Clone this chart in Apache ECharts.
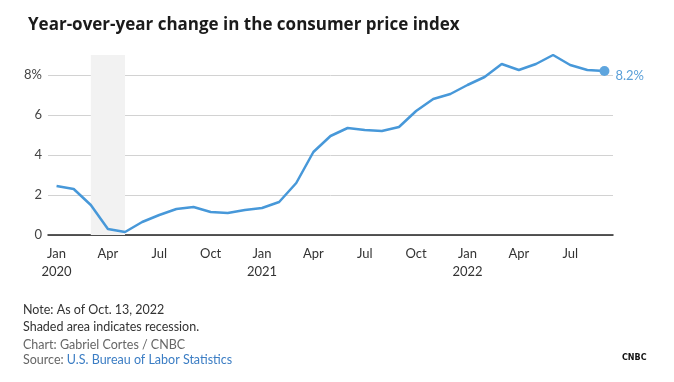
<!DOCTYPE html>
<html>
<head>
<meta charset="utf-8">
<script src="https://cdn.jsdelivr.net/npm/echarts@6/dist/echarts.min.js"></script>
<style>
html,body{margin:0;padding:0;background:#fff;}
#c{width:674px;height:382px;}
</style>
</head>
<body>
<div id="c"></div>
<script>
// Data
const monthNames = ['Jan','Feb','Mar','Apr','May','Jun','Jul','Aug','Sep','Oct','Nov','Dec'];
const years = [2020, 2021, 2022];
const cpiYoY = [
  2.45, 2.3, 1.5, 0.3, 0.15, 0.65, 1.0, 1.3, 1.4, 1.15, 1.1, 1.25,
  1.35, 1.65, 2.6, 4.15, 4.95, 5.35, 5.25, 5.2, 5.4, 6.2, 6.8, 7.05,
  7.5, 7.9, 8.55, 8.25, 8.55, 9.0, 8.5, 8.25, 8.2
];
const yTicks = [0, 2, 4, 6, 8];
const recession = ['2020-03', '2020-05'];
const footnotes = [
  'Note: As of Oct. 13, 2022',
  'Shaded area indicates recession.',
  'Chart: Gabriel Cortes / CNBC'
];
const sourceLabel = 'Source: ';
const sourceName = 'U.S. Bureau of Labor Statistics';

// categories keyed as YYYY-MM
const categories = [];
for (let i = 0; i < cpiYoY.length; i++) {
  const y = years[0] + Math.floor(i / 12);
  const m = i % 12;
  categories.push(y + '-' + String(m + 1).padStart(2, '0'));
}
function catLabel(c) {
  const [y, m] = c.split('-');
  const name = monthNames[parseInt(m, 10) - 1];
  return m === '01' ? name + '\n' + y : name;
}

const lineColor = '#4798d9';
const seriesData = cpiYoY.map((v, i) => {
  if (i === cpiYoY.length - 1) {
    return {
      value: v,
      symbol: 'circle',
      symbolSize: 10,
      itemStyle: { color: '#5ea5de' },
      label: {
        show: true,
        position: 'right',
        distance: 6,
        offset: [0, 5],
        formatter: p => p.value.toFixed(1) + '%',
        color: '#5a9fd8',
        fontSize: 13,
        fontFamily: 'Lato, "Open Sans", sans-serif'
      }
    };
  }
  return { value: v, symbol: 'none' };
});

const chart = echarts.init(document.getElementById('c'), null, { renderer: 'canvas' });
const ff = 'Lato, "Open Sans", sans-serif';

const graphics = [];
const footY = [311, 328, 346];
footnotes.forEach((t, i) => {
  graphics.push({
    type: 'text', left: 23, top: footY[i] - 8,
    style: { text: t, fill: i < 2 ? '#333' : '#666', font: '12.5px ' + ff }
  });
});
graphics.push({
  type: 'text', left: 23, top: 361 - 8,
  style: {
    text: '{a|' + sourceLabel + '}{b|' + sourceName + '}',
    font: '12.5px ' + ff,
    rich: {
      a: { fill: '#666', font: '12.5px ' + ff },
      b: { fill: '#3b7dc4', font: '12.5px ' + ff }
    }
  }
});
graphics.push({
  type: 'text', left: 622, top: 354,
  style: { text: 'CNBC', fill: '#111', font: 'bold 8px "DejaVu Sans", sans-serif' }
});

chart.setOption({
  animation: false,
  backgroundColor: '#fff',
  title: {
    text: 'Year-over-year change in the consumer price index',
    left: 23, top: 12,
    textStyle: { fontSize: 17, fontWeight: 'bold', color: '#1b1b1b', fontFamily: '"Open Sans", Lato, sans-serif' }
  },
  grid: { left: 48, right: 61, top: 55, bottom: 147 },
  xAxis: {
    type: 'category',
    data: categories,
    boundaryGap: true,
    axisLine: { lineStyle: { color: '#222', width: 1.5 } },
    axisTick: { alignWithLabel: true, interval: 2, length: 6, lineStyle: { color: '#222', width: 1.3 } },
    axisLabel: {
      interval: 2,
      formatter: v => catLabel(v),
      color: '#333', fontSize: 13, lineHeight: 18, margin: 10, fontFamily: ff
    },
    splitLine: { show: false }
  },
  yAxis: {
    type: 'value',
    min: 0, max: 9, interval: 2,
    axisLine: { show: false },
    axisTick: { show: false },
    axisLabel: {
      showMaxLabel: false,
      formatter: v => (yTicks.indexOf(v) < 0 ? '' : (v === yTicks[yTicks.length - 1] ? v + '%' : String(v))),
      color: '#444', fontSize: 13, margin: 6, fontFamily: ff
    },
    splitLine: { showMaxLine: false, lineStyle: { color: '#d2d2d2', width: 1 } }
  },
  graphic: graphics,
  series: [{
    type: 'line',
    data: seriesData,
    clip: false,
    showSymbol: true,
    lineStyle: { color: lineColor, width: 2.5 },
    itemStyle: { color: lineColor },
    z: 3,
    markArea: {
      silent: true,
      itemStyle: { color: '#f2f2f2' },
      data: [[{ xAxis: recession[0] }, { xAxis: recession[1] }]]
    }
  }]
});
</script>
</body>
</html>
